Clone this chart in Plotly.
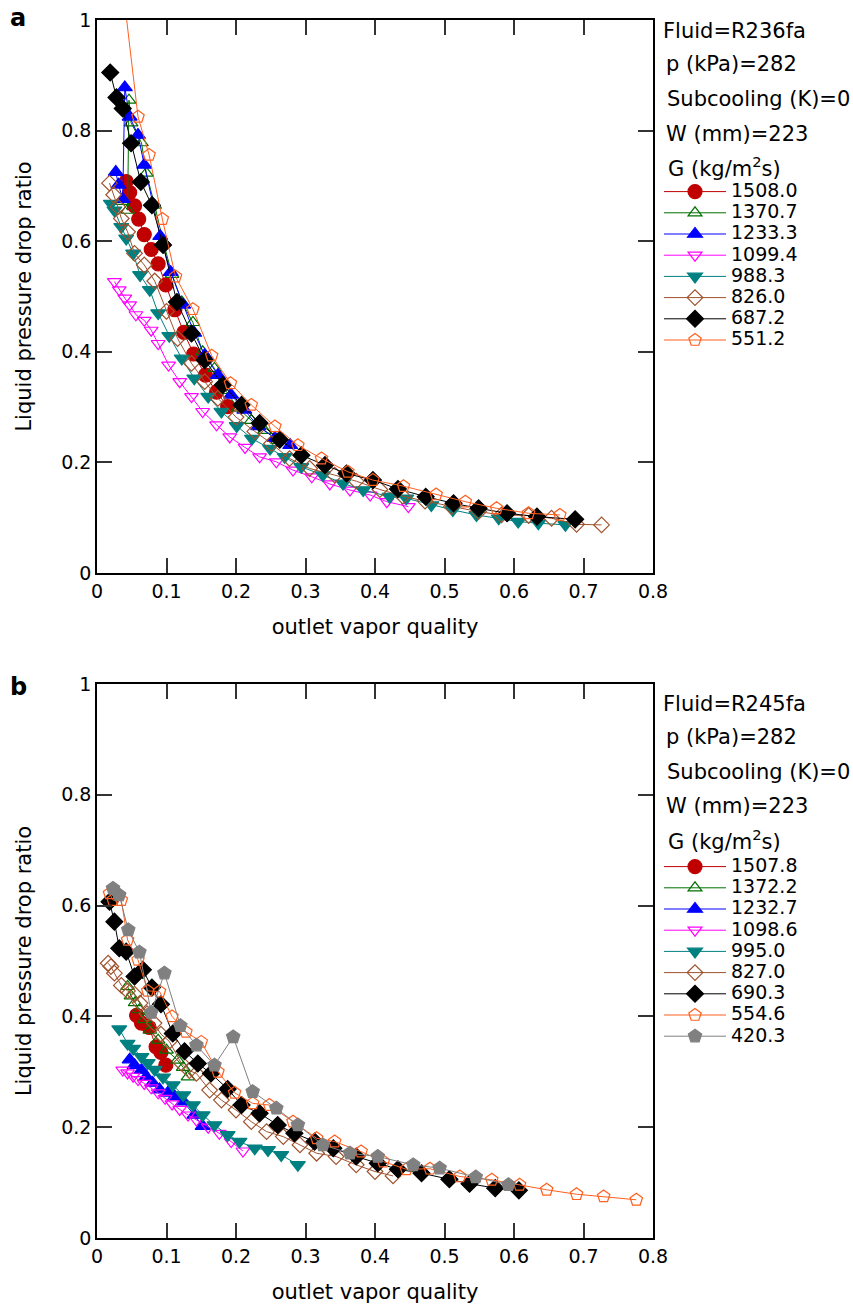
import plotly.graph_objects as go

W, H = 853, 1306

# ---------------- Panel a : R236fa ----------------
G_a = ["1508.0", "1370.7", "1233.3", "1099.4", "988.3", "826.0", "687.2", "551.2"]

xa_1508 = [0.042, 0.047, 0.054, 0.060, 0.068, 0.078, 0.088, 0.099, 0.112, 0.125, 0.139, 0.156, 0.172, 0.188]
ya_1508 = [0.708, 0.688, 0.664, 0.640, 0.612, 0.585, 0.559, 0.521, 0.476, 0.435, 0.396, 0.358, 0.327, 0.301]

xa_1370 = [0.036, 0.044, 0.046, 0.049, 0.064, 0.071, 0.083, 0.095, 0.108, 0.122, 0.138, 0.152, 0.169, 0.185, 0.203, 0.222, 0.241, 0.260]
ya_1370 = [0.672, 0.656, 0.855, 0.814, 0.778, 0.723, 0.665, 0.600, 0.540, 0.490, 0.453, 0.400, 0.370, 0.330, 0.298, 0.276, 0.258, 0.240]

xa_1233 = [0.027, 0.031, 0.037, 0.040, 0.047, 0.059, 0.068, 0.080, 0.091, 0.106, 0.124, 0.140, 0.155, 0.174, 0.193, 0.212, 0.232, 0.256, 0.278]
ya_1233 = [0.725, 0.702, 0.676, 0.878, 0.825, 0.792, 0.738, 0.668, 0.609, 0.544, 0.485, 0.434, 0.394, 0.358, 0.322, 0.295, 0.265, 0.244, 0.231]

xa_1099 = [0.025, 0.032, 0.040, 0.047, 0.056, 0.068, 0.078, 0.088, 0.103, 0.119, 0.136, 0.152, 0.172, 0.191, 0.213, 0.234, 0.258, 0.282, 0.309, 0.335, 0.364, 0.393, 0.417, 0.448]
ya_1099 = [0.527, 0.512, 0.497, 0.485, 0.467, 0.457, 0.439, 0.415, 0.376, 0.346, 0.319, 0.292, 0.268, 0.246, 0.227, 0.210, 0.201, 0.186, 0.174, 0.161, 0.150, 0.141, 0.129, 0.120]

xa_988 = [0.020, 0.025, 0.035, 0.042, 0.052, 0.062, 0.076, 0.088, 0.104, 0.122, 0.140, 0.160, 0.179, 0.201, 0.223, 0.249, 0.270, 0.294, 0.325, 0.354, 0.383, 0.421, 0.445, 0.481, 0.512, 0.546, 0.578, 0.606, 0.635, 0.674]
ya_988 = [0.668, 0.656, 0.626, 0.605, 0.578, 0.539, 0.512, 0.470, 0.429, 0.388, 0.352, 0.319, 0.292, 0.266, 0.243, 0.225, 0.210, 0.192, 0.177, 0.162, 0.150, 0.138, 0.135, 0.123, 0.114, 0.105, 0.099, 0.093, 0.090, 0.087]

xa_826 = [0.018, 0.024, 0.030, 0.035, 0.044, 0.054, 0.068, 0.083, 0.100, 0.116, 0.136, 0.155, 0.174, 0.200, 0.227, 0.251, 0.277, 0.306, 0.342, 0.373, 0.407, 0.440, 0.472, 0.510, 0.549, 0.582, 0.621, 0.654, 0.690, 0.726]
ya_826 = [0.705, 0.684, 0.662, 0.641, 0.617, 0.578, 0.557, 0.528, 0.473, 0.424, 0.379, 0.346, 0.316, 0.282, 0.256, 0.234, 0.207, 0.189, 0.177, 0.166, 0.151, 0.139, 0.130, 0.120, 0.111, 0.105, 0.104, 0.099, 0.088, 0.087]

xa_687 = [0.019, 0.028, 0.037, 0.049, 0.063, 0.079, 0.095, 0.115, 0.136, 0.155, 0.181, 0.208, 0.234, 0.263, 0.294, 0.328, 0.359, 0.397, 0.433, 0.473, 0.513, 0.549, 0.590, 0.633, 0.688]
ya_687 = [0.905, 0.860, 0.840, 0.777, 0.707, 0.665, 0.593, 0.490, 0.433, 0.385, 0.340, 0.304, 0.271, 0.241, 0.213, 0.195, 0.180, 0.168, 0.152, 0.138, 0.126, 0.117, 0.108, 0.102, 0.097]

xa_551 = [0.025, 0.059, 0.075, 0.094, 0.113, 0.138, 0.165, 0.192, 0.222, 0.256, 0.289, 0.323, 0.361, 0.397, 0.441, 0.488, 0.530, 0.575, 0.621, 0.666]
ya_551 = [1.190, 0.825, 0.756, 0.640, 0.536, 0.477, 0.393, 0.343, 0.304, 0.265, 0.231, 0.207, 0.183, 0.168, 0.157, 0.142, 0.129, 0.117, 0.108, 0.105]

# ---------------- Panel b : R245fa ----------------
G_b = ["1507.8", "1372.2", "1232.7", "1098.6", "995.0", "827.0", "690.3", "554.6", "420.3"]

xb_1507 = [0.057, 0.064, 0.075, 0.085, 0.092, 0.099]
yb_1507 = [0.402, 0.388, 0.380, 0.345, 0.335, 0.312]

xb_1372 = [0.044, 0.049, 0.055, 0.061, 0.068, 0.076, 0.088, 0.100, 0.116, 0.124, 0.131]
yb_1372 = [0.454, 0.437, 0.425, 0.412, 0.394, 0.375, 0.357, 0.339, 0.321, 0.308, 0.291]

xb_1232 = [0.047, 0.054, 0.064, 0.071, 0.080, 0.090, 0.102, 0.112, 0.124, 0.140, 0.152]
yb_1232 = [0.322, 0.312, 0.303, 0.291, 0.280, 0.268, 0.262, 0.255, 0.246, 0.222, 0.202]

xb_1098 = [0.037, 0.044, 0.052, 0.059, 0.068, 0.078, 0.088, 0.098, 0.108, 0.119, 0.131, 0.143, 0.160, 0.176, 0.193, 0.210]
yb_1098 = [0.303, 0.298, 0.292, 0.286, 0.279, 0.271, 0.262, 0.252, 0.242, 0.232, 0.222, 0.213, 0.200, 0.189, 0.174, 0.157]

xb_995 = [0.032, 0.044, 0.052, 0.064, 0.073, 0.083, 0.095, 0.109, 0.124, 0.138, 0.152, 0.169, 0.188, 0.205, 0.227, 0.246, 0.265, 0.289]
yb_995 = [0.377, 0.351, 0.342, 0.327, 0.316, 0.304, 0.290, 0.276, 0.258, 0.240, 0.222, 0.204, 0.186, 0.174, 0.162, 0.159, 0.150, 0.132]

xb_827 = [0.016, 0.020, 0.025, 0.035, 0.044, 0.054, 0.062, 0.072, 0.082, 0.092, 0.104, 0.121, 0.133, 0.143, 0.162, 0.179, 0.200, 0.222, 0.244, 0.268, 0.292, 0.316, 0.344, 0.373, 0.400, 0.426]
yb_827 = [0.496, 0.490, 0.478, 0.456, 0.446, 0.440, 0.424, 0.405, 0.388, 0.368, 0.355, 0.316, 0.302, 0.297, 0.267, 0.249, 0.231, 0.210, 0.192, 0.183, 0.168, 0.153, 0.147, 0.132, 0.120, 0.112]

xb_690 = [0.018, 0.025, 0.032, 0.042, 0.054, 0.066, 0.079, 0.092, 0.109, 0.126, 0.145, 0.164, 0.188, 0.208, 0.234, 0.260, 0.284, 0.313, 0.340, 0.373, 0.404, 0.433, 0.467, 0.507, 0.536, 0.573, 0.607]
yb_690 = [0.607, 0.571, 0.523, 0.517, 0.472, 0.484, 0.452, 0.422, 0.369, 0.337, 0.315, 0.297, 0.269, 0.240, 0.225, 0.204, 0.189, 0.174, 0.162, 0.147, 0.135, 0.124, 0.117, 0.106, 0.098, 0.090, 0.086]

xb_554 = [0.018, 0.023, 0.035, 0.044, 0.059, 0.073, 0.090, 0.108, 0.128, 0.150, 0.174, 0.198, 0.224, 0.248, 0.282, 0.316, 0.342, 0.380, 0.412, 0.445, 0.479, 0.522, 0.568, 0.608, 0.647, 0.690, 0.729, 0.776]
yb_554 = [0.622, 0.610, 0.610, 0.538, 0.502, 0.446, 0.445, 0.400, 0.372, 0.354, 0.300, 0.262, 0.243, 0.240, 0.210, 0.180, 0.174, 0.156, 0.138, 0.124, 0.125, 0.111, 0.105, 0.096, 0.087, 0.079, 0.075, 0.069]

xb_420 = [0.023, 0.032, 0.045, 0.061, 0.078, 0.097, 0.120, 0.143, 0.169, 0.196, 0.224, 0.258, 0.289, 0.325, 0.364, 0.404, 0.455, 0.493, 0.545, 0.592]
yb_420 = [0.631, 0.619, 0.556, 0.516, 0.407, 0.478, 0.383, 0.348, 0.312, 0.363, 0.264, 0.234, 0.204, 0.168, 0.153, 0.147, 0.132, 0.126, 0.110, 0.096]

# ---------------- styles ----------------
colors = ["#c00000", "#007000", "#0000ff", "#ff00ff", "#008080", "#a0522d", "#000000", "#ff5f1f", "#808080"]
symbols = ["circle", "triangle-up-open", "triangle-up", "triangle-down-open", "triangle-down",
           "diamond-open", "diamond", "pentagon-open", "pentagon"]
sizes = [14, 12, 13, 12, 13, 12, 13, 13, 14]

series_a = [(xa_1508, ya_1508), (xa_1370, ya_1370), (xa_1233, ya_1233), (xa_1099, ya_1099),
            (xa_988, ya_988), (xa_826, ya_826), (xa_687, ya_687), (xa_551, ya_551)]
series_b = [(xb_1507, yb_1507), (xb_1372, yb_1372), (xb_1232, yb_1232), (xb_1098, yb_1098),
            (xb_995, yb_995), (xb_827, yb_827), (xb_690, yb_690), (xb_554, yb_554), (xb_420, yb_420)]

FONT = "DejaVu Sans"
fig = go.Figure()


def add_series(series, labels, xa, ya, legend):
    for i, ((xs, ys), lab) in enumerate(zip(series, labels)):
        fig.add_trace(go.Scatter(
            x=xs, y=ys, xaxis=xa, yaxis=ya, mode="lines+markers",
            name='<span style="font-size:19px">' + lab + '</span>',
            legend=legend, legendgroup=legend + str(i),
            line=dict(color=colors[i], width=1),
            marker=dict(symbol=symbols[i], size=sizes[i], color=colors[i],
                        line=dict(color=colors[i], width=1.2)),
        ))


add_series(series_a, G_a, "x", "y", "legend")
add_series(series_b, G_b, "x2", "y2", "legend2")


def px2x(px):
    return px / W


def py2y(py):
    return 1 - py / H


axis_common = dict(
    showline=True, linecolor="black", linewidth=1.5, mirror="ticks",
    ticks="inside", ticklen=15, tickwidth=1.5, tickcolor="#333",
    showgrid=False, zeroline=False, automargin=False,
    tickfont=dict(family=FONT, size=19, color="black"),
)

xdom = [px2x(97), px2x(653)]
xa_layout = dict(axis_common, range=[0, 0.8], dtick=0.1, tick0=0, domain=xdom,
                 title=dict(text="outlet vapor quality", font=dict(family=FONT, size=21, color="black"), standoff=19))
ya_layout = dict(axis_common, range=[0, 1],
                 tickvals=[0, 0.2, 0.4, 0.6, 0.8, 1], ticktext=["0", "0.2", "0.4", "0.6", "0.8", "1"],
                 title=dict(text="Liquid pressure drop ratio", font=dict(family=FONT, size=21, color="black"), standoff=24))

leg_common = dict(xanchor="left", yanchor="top",
                  font=dict(family=FONT, size=14, color="black"), itemwidth=62,
                  tracegroupgap=0, bgcolor="rgba(0,0,0,0)", borderwidth=0, traceorder="normal")

fig.update_layout(
    width=W, height=H,
    margin=dict(l=0, r=0, t=0, b=0, autoexpand=False),
    paper_bgcolor="white", plot_bgcolor="white",
    font=dict(family=FONT, color="black"),
    xaxis=dict(xa_layout, anchor="y"),
    yaxis=dict(ya_layout, anchor="x", domain=[py2y(573), py2y(20)]),
    xaxis2=dict(xa_layout, anchor="y2"),
    yaxis2=dict(ya_layout, anchor="x2", domain=[py2y(1238), py2y(684)]),
    legend=dict(leg_common, x=px2x(659), y=py2y(176)),
    legend2=dict(leg_common, x=px2x(659), y=py2y(851)),
    showlegend=True,
)

head_a = ["Fluid=R236fa", "p (kPa)=282", "Subcooling (K)=0", "W (mm)=223", "G (kg/m<sup>2</sup>s)"]
head_b = ["Fluid=R245fa", "p (kPa)=282", "Subcooling (K)=0", "W (mm)=223", "G (kg/m<sup>2</sup>s)"]
head_ya = [31, 64, 99, 134, 167]
head_yb = [704, 737, 772, 806, 840]
head_x = [661, 664, 665, 664, 666]

annots = []
for txt, yy, xx in zip(head_a, head_ya, head_x):
    annots.append(dict(text=txt, x=px2x(xx), y=py2y(yy), xref="paper", yref="paper",
                       xanchor="left", yanchor="middle", showarrow=False,
                       font=dict(family=FONT, size=21, color="black")))
for txt, yy, xx in zip(head_b, head_yb, head_x):
    annots.append(dict(text=txt, x=px2x(xx), y=py2y(yy), xref="paper", yref="paper",
                       xanchor="left", yanchor="middle", showarrow=False,
                       font=dict(family=FONT, size=21, color="black")))
for lab, yy in [("a", 18), ("b", 687)]:
    annots.append(dict(text="<b>" + lab + "</b>", x=px2x(18), y=py2y(yy), xref="paper", yref="paper",
                       xanchor="center", yanchor="middle", showarrow=False,
                       font=dict(family=FONT, size=24, color="black")))
fig.update_layout(annotations=annots)

fig.write_html("out.html")
